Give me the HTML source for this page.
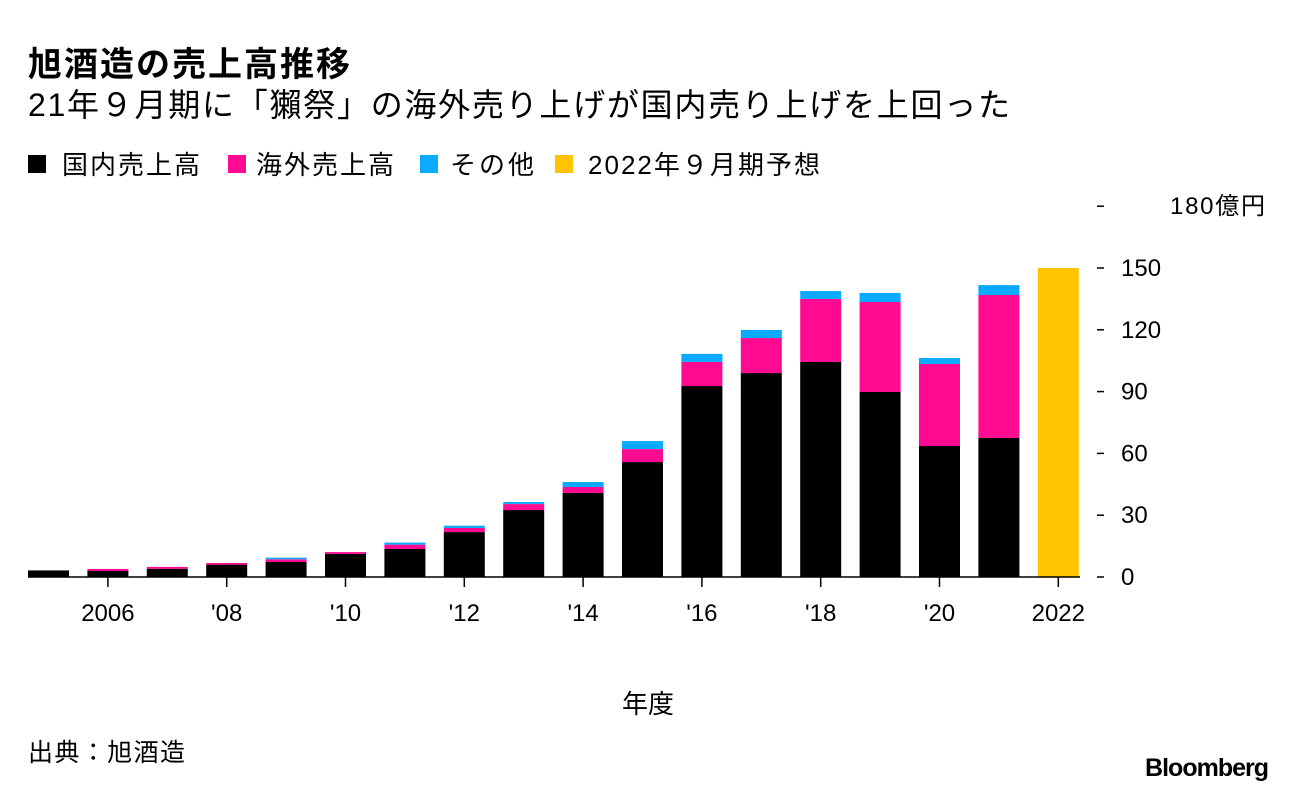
<!DOCTYPE html>
<html><head><meta charset="utf-8"><style>
body{margin:0;background:#fff;font-family:"Liberation Sans","Noto Sans CJK JP",sans-serif;}
svg text{font-family:"Liberation Sans","Noto Sans CJK JP",sans-serif;}
</style></head><body>
<svg width="1296" height="792">
<text x="28" y="76" font-size="34" font-weight="bold" textLength="322" lengthAdjust="spacing">旭酒造の売上高推移</text>
<text x="28" y="116" font-size="32" textLength="982" lengthAdjust="spacing">21年９月期に「獺祭」の海外売り上げが国内売り上げを上回った</text>
<g font-size="26">
<rect x="28" y="155" width="18" height="18" fill="#000"/><text x="62" y="174" textLength="138" lengthAdjust="spacing">国内売上高</text>
<rect x="228" y="155" width="18" height="18" fill="#ff0a91"/><text x="256" y="174" textLength="138" lengthAdjust="spacing">海外売上高</text>
<rect x="420" y="155" width="18" height="18" fill="#0aaaff"/><text x="450" y="174" textLength="84" lengthAdjust="spacing">その他</text>
<rect x="555" y="155" width="18" height="18" fill="#ffc400"/><text x="588" y="174" textLength="232" lengthAdjust="spacing">2022年９月期予想</text>
</g>
<g id="plot"></g>
<text x="648" y="713" font-size="26" text-anchor="middle">年度</text>
<text x="28" y="761" font-size="25" textLength="157" lengthAdjust="spacing">出典：旭酒造</text>
<text x="1268" y="776" font-size="25" font-weight="bold" text-anchor="end" letter-spacing="-1">Bloomberg</text>
</svg>
<script>
const years=[2005,2006,2007,2008,2009,2010,2011,2012,2013,2014,2015,2016,2017,2018,2019,2020,2021,2022];
const domestic=[3.2,2.9,4.0,6.0,7.3,11.2,13.6,21.8,32.5,40.8,55.8,92.7,99,104.4,89.8,63.6,67.5,0];
const overseas=[0,1.0,0.9,0.8,1.3,0.9,2.1,2.0,2.9,2.9,6.3,11.7,17,30.6,43.7,39.8,69.4,0];
const other=[0,0,0,0,0.8,0,1.0,1.1,1.0,2.4,3.9,3.9,3.9,3.8,4.4,2.9,4.8,0];
const forecast=[0,0,0,0,0,0,0,0,0,0,0,0,0,0,0,0,0,150];
const yTicks=[0,30,60,90,120,150,180];
const xLabels={2006:"2006",2008:"'08",2010:"'10",2012:"'12",2014:"'14",2016:"'16",2018:"'18",2020:"'20",2022:"2022"};
const NS="http://www.w3.org/2000/svg";
const g=document.getElementById('plot');
const y=v=>577-v*2.06;
const x=i=>28+i*59.4;
const bw=41;
function el(t,a){const e=document.createElementNS(NS,t);for(const k in a)e.setAttribute(k,a[k]);g.appendChild(e);return e;}
yTicks.forEach(t=>{
 const l=el('line',{x1:1097,x2:1104,y1:y(t),y2:y(t),stroke:'#000','stroke-width':1.5});
 
 
 const tx=el('text',{x:1121,y:y(t)+8,'font-size':24});
 tx.textContent=t===180?'180億円':String(t);
 if(t===180){tx.setAttribute('x',1170);tx.setAttribute('textLength',95);tx.setAttribute('lengthAdjust','spacing');}
 
 
});
const series=[[domestic,'#000','domestic'],[overseas,'#ff0a91','overseas'],[other,'#0aaaff','other'],[forecast,'#ffc400','forecast']];
years.forEach((yr,i)=>{
 let base=0;
 series.forEach(([arr,c,n])=>{
  const v=arr[i]; if(v<=0)return;
  const r=el('rect',{x:x(i),y:y(base+v),width:bw,height:v*2.06,fill:c});
  
  
  base+=v;
 });
 if(xLabels[yr]){
  const cx=x(i)+bw/2;
  const tk=el('line',{x1:cx,x2:cx,y1:577,y2:587,stroke:'#000','stroke-width':1.5});
  
  
  const t=el('text',{x:cx,y:621,'font-size':24,'text-anchor':'middle'});
  t.textContent=xLabels[yr];
  
  
 }
});
const ax=el('line',{x1:28,x2:1080,y1:577,y2:577,stroke:'#000','stroke-width':1.5});


</script>
</body></html>
